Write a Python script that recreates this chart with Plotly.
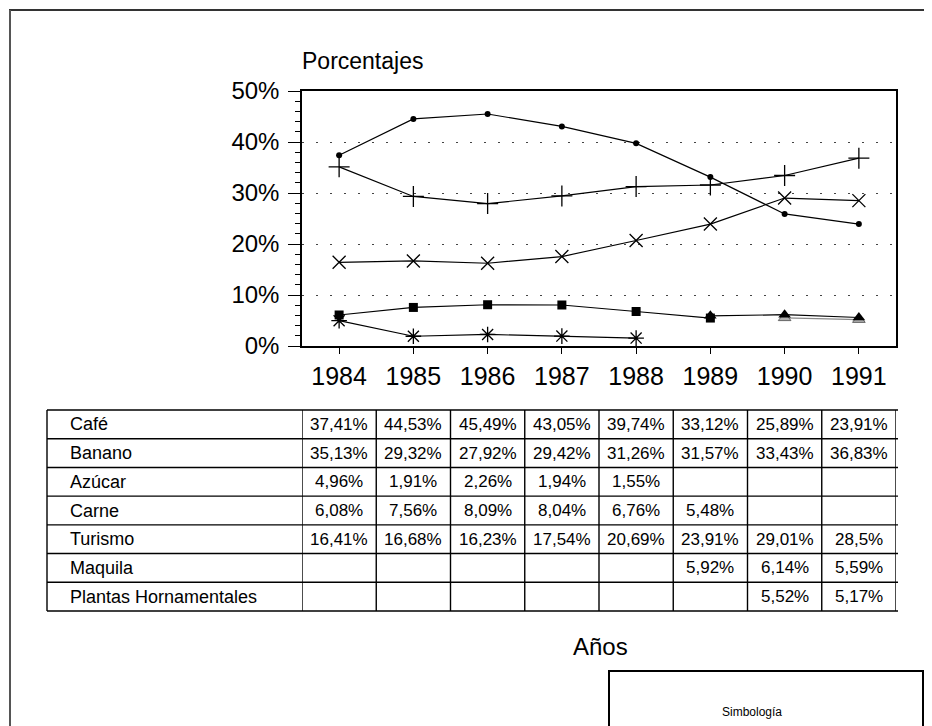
import plotly.graph_objects as go

# ---------------- data ----------------
years = ["1984", "1985", "1986", "1987", "1988", "1989", "1990", "1991"]
cafe = [37.41, 44.53, 45.49, 43.05, 39.74, 33.12, 25.89, 23.91]
banano = [35.13, 29.32, 27.92, 29.42, 31.26, 31.57, 33.43, 36.83]
azucar = [4.96, 1.91, 2.26, 1.94, 1.55, None, None, None]
carne = [6.08, 7.56, 8.09, 8.04, 6.76, 5.48, None, None]
turismo = [16.41, 16.68, 16.23, 17.54, 20.69, 23.91, 29.01, 28.5]
maquila = [None, None, None, None, None, 5.92, 6.14, 5.59]
plantas = [None, None, None, None, None, None, 5.52, 5.17]
series_names = ["Café", "Banano", "Azúcar", "Carne", "Turismo", "Maquila",
                "Plantas Hornamentales"]
series_values = [cafe, banano, azucar, carne, turismo, maquila, plantas]
y_tick_vals = [0, 10, 20, 30, 40, 50]
y_tick_text = ["0%", "10%", "20%", "30%", "40%", "50%"]

# ---------------- styles / layout ----------------
# the page body adds an 8px margin, so the figure is drawn 8px in from the corner
OFF = 8
W, H = 932 - OFF, 726 - OFF
FONT = "Liberation Sans, Arial, sans-serif"
styles = {
    "Café": dict(symbol="circle", size=6, color="black", lcolor="black", lw=0),
    "Banano": dict(symbol="cross-thin-open", size=15, color="black", lcolor="black", lw=1.3),
    "Azúcar": dict(symbol="asterisk-open", size=13, color="black", lcolor="black", lw=1.3),
    "Carne": dict(symbol="square", size=9, color="black", lcolor="black", lw=0),
    "Turismo": dict(symbol="x-thin-open", size=13, color="black", lcolor="black", lw=1.3),
    "Maquila": dict(symbol="triangle-up", size=11, color="black", lcolor="black", lw=0),
    "Plantas Hornamentales": dict(symbol="triangle-up", size=11, color="#b0b0b0",
                                  lcolor="#666666", lw=1),
}
line_colors = {"Plantas Hornamentales": "#888888"}


def px(x):
    return (x - OFF) / W


def py(y):
    return 1 - (y - OFF) / H


fig = go.Figure()

# draw Plantas first so the filled markers sit on top
order = [6, 0, 1, 2, 3, 4, 5]
for i in order:
    name = series_names[i]
    st = styles[name]
    fig.add_trace(go.Scatter(
        x=years, y=series_values[i], name=name, mode="lines+markers",
        line=dict(color=line_colors.get(name, "black"), width=1.2),
        marker=dict(symbol=st["symbol"], size=st["size"], color=st["color"],
                    line=dict(color=st["lcolor"], width=st["lw"])),
        cliponaxis=False, showlegend=False,
    ))

# plot area in page pixels
PX_L, PX_R, PX_T, PX_B = 302, 896, 91, 346

fig.update_layout(
    width=W, height=H,
    margin=dict(l=0, r=0, t=0, b=0, autoexpand=False),
    paper_bgcolor="white", plot_bgcolor="white",
    font=dict(family=FONT, color="black"),
    showlegend=False,
    xaxis=dict(
        domain=[px(PX_L), px(PX_R)], type="category", range=[-0.5, 7.5],
        showline=True, linecolor="black", linewidth=1.5, mirror=True,
        ticks="outside", ticklen=6, tickcolor="black", tickwidth=1,
        showgrid=False, zeroline=False,
        tickfont=dict(size=25, family=FONT, color="black"),
        ticklabelstandoff=1,
    ),
    yaxis=dict(
        domain=[py(PX_B), py(PX_T)], range=[0, 50],
        tickvals=y_tick_vals, ticktext=y_tick_text,
        showline=True, linecolor="black", linewidth=1.5, mirror=True,
        ticks="outside", ticklen=12, tickcolor="black", tickwidth=1.2,
        showgrid=True, gridcolor="#444444", gridwidth=1, griddash="2px,12px",
        zeroline=False,
        tickfont=dict(size=24, family=FONT, color="black"),
        ticklabelstandoff=4,
        minor=dict(dtick=2, tick0=0, ticks="outside", ticklen=5,
                   tickcolor="black", tickwidth=1, showgrid=False),
    ),
)

shapes = []
annotations = []

# outer page frame (top and left edges)
shapes.append(dict(type="line", xref="paper", yref="paper",
                   x0=px(9), x1=px(940), y0=py(10), y1=py(10),
                   line=dict(color="#333333", width=2)))
shapes.append(dict(type="line", xref="paper", yref="paper",
                   x0=px(10), x1=px(10), y0=py(10), y1=py(740),
                   line=dict(color="#555555", width=2)))

# axis titles
annotations.append(dict(text="Porcentajes", xref="paper", yref="paper",
                        x=px(300), y=py(61), xanchor="left", yanchor="middle",
                        showarrow=False, font=dict(size=23, family=FONT)))
annotations.append(dict(text="Años", xref="paper", yref="paper",
                        x=px(600), y=py(646), xanchor="center", yanchor="middle",
                        showarrow=False, font=dict(size=24, family=FONT)))

# data table below the chart
T_LEFT, T_LABEL_R, T_TOP, T_BOT = 47, 305, 410, 611
n_rows = len(series_names)
row_h = (T_BOT - T_TOP) / n_rows
tline = dict(color="black", width=1.4)
for r in range(n_rows + 1):
    yy = T_TOP + r * row_h
    shapes.append(dict(type="line", xref="paper", yref="paper",
                       x0=px(T_LEFT), x1=px(898), y0=py(yy), y1=py(yy), line=tline))
shapes.append(dict(type="line", xref="paper", yref="paper",
                   x0=px(T_LEFT), x1=px(T_LEFT), y0=py(T_TOP), y1=py(T_BOT), line=tline))
for c in range(len(years) + 1):
    shapes.append(dict(type="line", xref="x", yref="paper",
                       x0=c - 0.5, x1=c - 0.5, y0=py(T_TOP), y1=py(T_BOT), line=tline))


def fmt(v):
    return ("%g" % v).replace(".", ",") + "%"


for r, (name, vals) in enumerate(zip(series_names, series_values)):
    yc = T_TOP + (r + 0.5) * row_h
    annotations.append(dict(text=name, xref="paper", yref="paper",
                            x=px(68), y=py(yc), xanchor="left", yanchor="middle",
                            showarrow=False, font=dict(size=18, family=FONT)))
    for c, v in enumerate(vals):
        if v is None:
            continue
        annotations.append(dict(text=fmt(v), xref="x", yref="paper",
                                x=c, y=py(yc), xanchor="center", yanchor="middle",
                                showarrow=False, font=dict(size=17, family=FONT)))

# Simbología box
shapes.append(dict(type="rect", xref="paper", yref="paper",
                   x0=px(609), x1=px(923), y0=py(671), y1=py(760),
                   line=dict(color="black", width=2), fillcolor="white", layer="below"))
annotations.append(dict(text="Simbología", xref="paper", yref="paper",
                        x=px(752), y=py(712), xanchor="center", yanchor="middle",
                        showarrow=False, font=dict(size=12, family=FONT)))

fig.update_layout(shapes=shapes, annotations=annotations)
fig.write_html("out.html")
